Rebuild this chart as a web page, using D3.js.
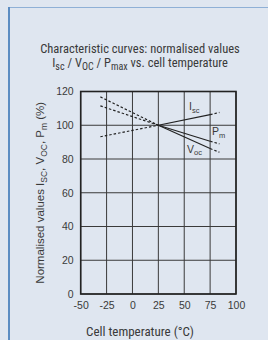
<!DOCTYPE html>
<html><head><meta charset="utf-8">
<script src="https://cdn.jsdelivr.net/npm/d3@7"></script>
<style>
html,body{margin:0;padding:0;background:#dfe6f0;}
svg{display:block;}
</style></head>
<body>
<script>
// Data
const temps = [-31, 25, 75, 84];           // °C
const isc = [93.2, 100, 106.3, 107.6];     // %
const voc = [116.8, 100, 86.2, 84.0];      // %
const pm  = [111.5, 100, 90.5, 89.0];      // %
const xTicks = [-50, -25, 0, 25, 50, 75, 100];
const yTicks = [0, 20, 40, 60, 80, 100, 120];

const W = 268, H = 340;
const svg = d3.select("body").append("svg").attr("width", W).attr("height", H);
svg.append("rect").attr("width", W).attr("height", H).attr("fill", "#dfe6f0");
// frame
svg.append("line").attr("x1", 9).attr("x2", 268).attr("y1", 7.5).attr("y2", 7.5)
  .attr("stroke", "#8fb0d6").attr("stroke-width", 1);
svg.append("line").attr("x1", 9).attr("x2", 9).attr("y1", 7).attr("y2", 340)
  .attr("stroke", "#5b8cc2").attr("stroke-width", 2);

const condensed = "'Liberation Sans Narrow','Roboto Condensed','Open Sans',sans-serif";
const sans = "'Liberation Sans',Arial,sans-serif";
const txt = "#3a3a3a";

// title
const t1 = svg.append("text").attr("x", 140).attr("y", 52.5).attr("text-anchor", "middle")
  .attr("font-family", condensed).attr("font-size", 12.5).attr("fill", txt)
  .text("Characteristic curves: normalised values");
const t2 = svg.append("text").attr("x", 140).attr("y", 67).attr("text-anchor", "middle")
  .attr("font-family", condensed).attr("font-size", 12.5).attr("fill", txt);
t2.append("tspan").text("I");
t2.append("tspan").attr("dy", 3).attr("font-size", 10).text("sc");
t2.append("tspan").attr("dy", -3).text(" / V");
t2.append("tspan").attr("dy", 3).attr("font-size", 10).text("OC");
t2.append("tspan").attr("dy", -3).text(" / P");
t2.append("tspan").attr("dy", 3).attr("font-size", 10).text("max");
t2.append("tspan").attr("dy", -3).text(" vs. cell temperature");

const x = d3.scaleLinear().domain([-50, 100]).range([80.7, 236]);
const y = d3.scaleLinear().domain([0, 120]).range([294, 91.5]);

// grid
const g = svg.append("g");
g.selectAll("line.v").data(xTicks).join("line")
  .attr("x1", d => x(d)).attr("x2", d => x(d)).attr("y1", y(0)).attr("y2", y(120))
  .attr("stroke", "#3a3a3a").attr("stroke-width", 1);
g.selectAll("line.h").data(yTicks).join("line")
  .attr("x1", x(-50)).attr("x2", x(100)).attr("y1", d => y(d)).attr("y2", d => y(d))
  .attr("stroke", "#3a3a3a").attr("stroke-width", 1);
g.append("rect").attr("x", x(-50)).attr("y", y(120)).attr("width", x(100) - x(-50))
  .attr("height", y(0) - y(120)).attr("fill", "none").attr("stroke", "#222").attr("stroke-width", 1.6);

// axes labels via d3 axes
const xAxis = svg.append("g").attr("transform", `translate(0,${y(0)})`)
  .call(d3.axisBottom(x).tickValues(xTicks).tickSize(0).tickPadding(5).tickFormat(d => String(d)));
const yAxis = svg.append("g").attr("transform", `translate(${x(-50)},0)`)
  .call(d3.axisLeft(y).tickValues(yTicks).tickSize(0).tickPadding(7).tickFormat(d => String(d)));
[xAxis, yAxis].forEach(a => {
  a.select(".domain").remove();
  a.selectAll("text").attr("font-family", sans).attr("font-size", 10.5).attr("fill", txt);
});
xAxis.selectAll("text").attr("dy", "0.95em");

// y label
const yl = svg.append("text").attr("transform", `translate(44,${(y(0)+y(120))/2}) rotate(-90)`)
  .attr("text-anchor", "middle").attr("font-family", sans).attr("font-size", 11.5).attr("fill", txt);
yl.append("tspan").text("Normalised values I");
yl.append("tspan").attr("dy", 2.5).attr("font-size", 8.5).text("SC");
yl.append("tspan").attr("dy", -2.5).text(", V");
yl.append("tspan").attr("dy", 2.5).attr("font-size", 8.5).text("OC");
yl.append("tspan").attr("dy", -2.5).text(", P");
yl.append("tspan").attr("dy", 2.5).attr("font-size", 8.5).text("m");
yl.append("tspan").attr("dy", -2.5).text(" (%)");

// x label
svg.append("text").attr("x", 140).attr("y", 335.5).attr("text-anchor", "middle")
  .attr("font-family", condensed).attr("font-size", 13).attr("fill", txt)
  .text("Cell temperature (°C)");

// curves
const series = [isc, voc, pm];
const line = d3.line().x(d => x(d[0])).y(d => y(d[1]));
series.forEach(vals => {
  const pts = temps.map((t, i) => [t, vals[i]]);
  svg.append("path").attr("d", line(pts.slice(0, 2))).attr("fill", "none")
    .attr("stroke", "#222").attr("stroke-width", 1.2).attr("stroke-dasharray", "2.5,2");
  svg.append("path").attr("d", line(pts.slice(1, 3))).attr("fill", "none")
    .attr("stroke", "#222").attr("stroke-width", 1.2);
  svg.append("path").attr("d", line(pts.slice(2, 4))).attr("fill", "none")
    .attr("stroke", "#222").attr("stroke-width", 1.2).attr("stroke-dasharray", "2.5,2");
});

// curve labels
function lab(xp, yp, main, sub) {
  const t = svg.append("text").attr("x", xp).attr("y", yp).attr("font-family", sans)
    .attr("font-size", 10.5).attr("fill", txt);
  t.append("tspan").text(main);
  t.append("tspan").attr("dy", 2.5).attr("font-size", 7.5).text(sub);
}
lab(189, 110, "I", "sc");
lab(212, 135, "P", "m");
lab(187, 152.5, "V", "oc");
</script>
</body></html>
